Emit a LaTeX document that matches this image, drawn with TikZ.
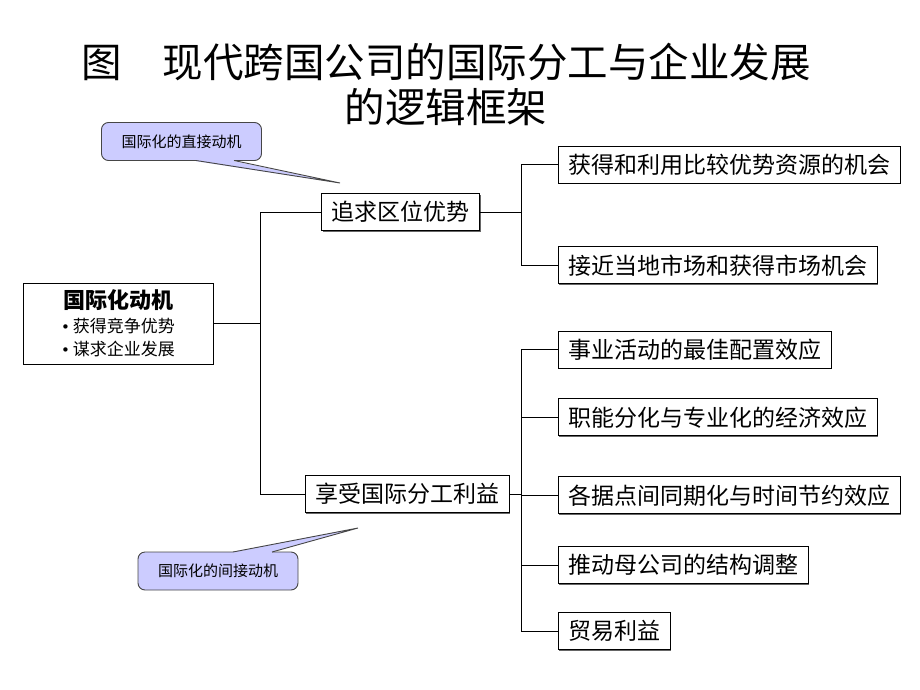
\documentclass[tikz,border=0pt]{standalone}
\usepackage{fontspec}
\setmainfont{Noto Sans CJK SC}
\newfontfamily\dotfont{DejaVu Sans}
\usetikzlibrary{positioning,shadows}
\definecolor{callblue}{RGB}{204,204,255}
\definecolor{edgegray}{RGB}{70,70,70}
\newcommand{\bul}{{\dotfont\fontsize{15}{15}\selectfont •}\hspace{3pt}}

\begin{document}
\begin{tikzpicture}[x=1pt,y=-1pt,node distance=30pt and 40pt,line width=0.9pt]
\tikzstyle{item}=[rectangle, draw=black, minimum height=37pt, inner xsep=10pt, inner ysep=0pt, font=\fontsize{23}{23}\selectfont, fill=white, drop shadow={shadow xshift=1pt,shadow yshift=-1pt,fill=black!60,opacity=1}]
\tikzstyle{call}=[rectangle, rounded corners=7pt, draw=edgegray, fill=callblue, minimum width=160pt, minimum height=38pt, font=\fontsize{15}{15}\selectfont]
\tikzstyle{link}=[draw=black, line width=0.9pt]
\useasboundingbox (0,0) rectangle (920,690);
% title
\node (title) at (446,62) {\fontsize{40.5}{44}\selectfont 图　现代跨国公司的国际分工与企业发展};
\node (title2) at (446,107) {\fontsize{40.5}{44}\selectfont 的逻辑框架};
% left and middle
\node[item, minimum width=190pt, minimum height=81pt, align=center, font=\fontsize{17}{23.5}\selectfont] (motive) at (118,323.5)
  {{\fontsize{22}{26}\selectfont\bfseries 国际化动机}\\ \bul 获得竞争优势\\ \bul 谋求企业发展};
\node[item] (loc) at (400.5,212) {追求区位优势};
\node[item] (div) at (407,494) {享受国际分工利益};
% right column
\node[item, anchor=west] (r1) at (558,164.5) {获得和利用比较优势资源的机会};
\node[item, below=63pt of r1.south west, anchor=north west] (r2) {接近当地市场和获得市场机会};
\node[item, anchor=west] (r3) at (558,349.5) {事业活动的最佳配置效应};
\node[item, below=30pt of r3.south west, anchor=north west] (r4) {职能分化与专业化的经济效应};
\node[item, below=40pt of r4.south west, anchor=north west] (r5) {各据点间同期化与时间节约效应};
\node[item, below=32pt of r5.south west, anchor=north west] (r6) {推动母公司的结构调整};
\node[item, below=28pt of r6.south west, anchor=north west] (r7) {贸易利益};
% connectors
\coordinate (trunk) at (260,0);
\coordinate (branch) at (521,0);
\draw[link] (motive.east) -- (motive.east -| trunk);
\draw[link] (loc.west -| trunk) -- (div.west -| trunk);
\draw[link] (loc.west) -- (loc.west -| trunk);
\draw[link] (div.west) -- (div.west -| trunk);
\draw[link] (loc.east) -- (loc.east -| branch);
\draw[link] (div.east) -- (div.east -| branch);
\draw[link] (r1.west -| branch) -- (r2.west -| branch);
\draw[link] (r3.west -| branch) -- (r7.west -| branch);
\foreach \n in {r1,r2,r3,r4,r5,r6,r7}
  \draw[link] (\n.west) -- (\n.west -| branch);
% callouts
\node[call] (direct) at (181.5,141.5) {国际化的直接动机};
\coordinate (dtip) at (340,183);
\fill[callblue] (196,157) -- (196,161.2) -- (dtip) -- (234,161.2) -- (234,157) -- cycle;
\draw[edgegray] (196,160.5) -- (dtip) -- (234,160.5);
\node[call] (indirect) at (218,571) {国际化的间接动机};
\coordinate (itip) at (358,528);
\fill[callblue] (233,555) -- (233,551.8) -- (itip) -- (272,551.8) -- (272,555) -- cycle;
\draw[edgegray] (233,552) -- (itip) -- (272,552);
\end{tikzpicture}
\end{document}
